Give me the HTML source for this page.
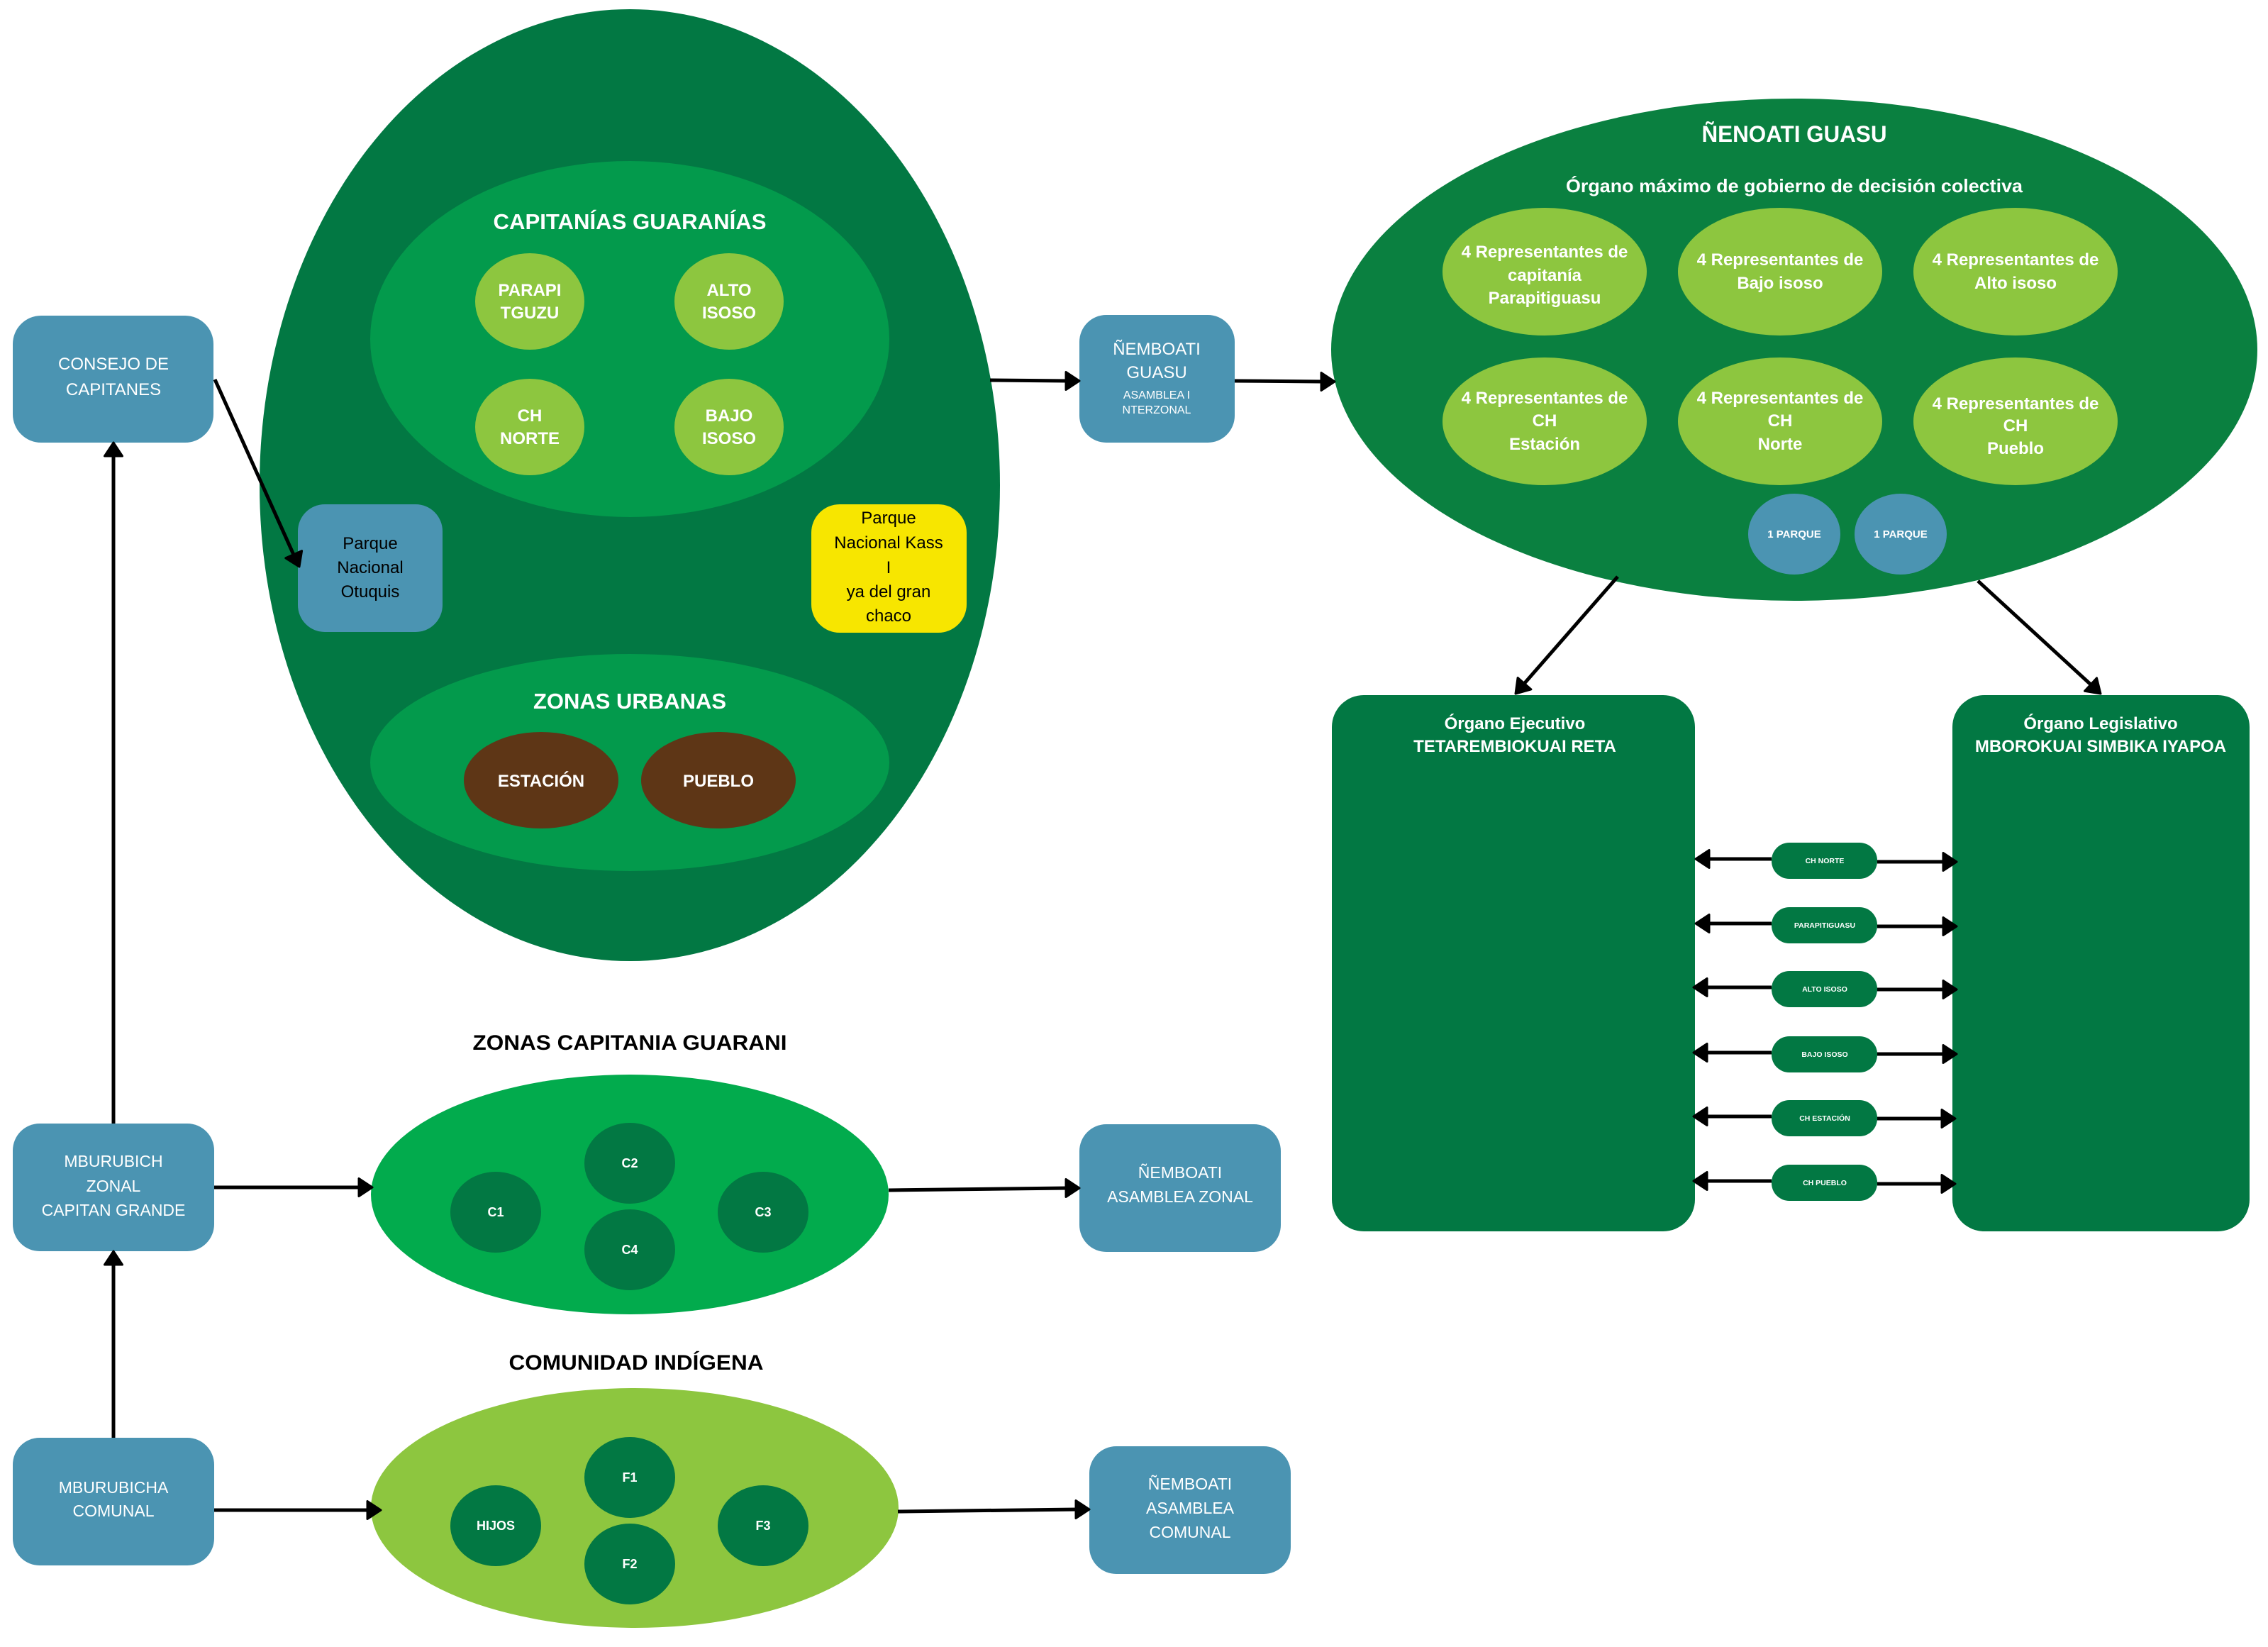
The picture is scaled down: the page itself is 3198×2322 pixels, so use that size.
<!DOCTYPE html>
<html>
<head>
<meta charset="utf-8">
<style>
html,body{margin:0;padding:0;background:#fff;}
svg{display:block;}
text{font-family:"Liberation Sans",sans-serif;}
.w{fill:#fff;}
.k{fill:#000;}
.b{font-weight:bold;}
</style>
</head>
<body>
<svg width="3198" height="2322" viewBox="0 0 3198 2322" xmlns="http://www.w3.org/2000/svg">
<rect width="3198" height="2322" fill="#fff"/>

<!-- ===== Big left ellipse ===== -->
<ellipse cx="888" cy="684" rx="522" ry="671" fill="#027843"/>
<ellipse cx="888" cy="478" rx="366" ry="251" fill="#039a4c"/>
<text x="888" y="323" text-anchor="middle" class="w b" font-size="31" textLength="385" lengthAdjust="spacingAndGlyphs">CAPITANÍAS GUARANÍAS</text>

<ellipse cx="747" cy="425" rx="77" ry="68" fill="#8dc63f"/>
<ellipse cx="1028" cy="425" rx="77" ry="68" fill="#8dc63f"/>
<ellipse cx="747" cy="602" rx="77" ry="68" fill="#8dc63f"/>
<ellipse cx="1028" cy="602" rx="77" ry="68" fill="#8dc63f"/>
<g class="w b" font-size="24" text-anchor="middle">
<text x="747" y="417">PARAPI</text><text x="747" y="449">TGUZU</text>
<text x="1028" y="417">ALTO</text><text x="1028" y="449">ISOSO</text>
<text x="747" y="594">CH</text><text x="747" y="626">NORTE</text>
<text x="1028" y="594">BAJO</text><text x="1028" y="626">ISOSO</text>
</g>

<!-- Parque boxes -->
<rect x="420" y="711" width="204" height="180" rx="38" fill="#4b94b2"/>
<g class="k" font-size="24" text-anchor="middle">
<text x="522" y="774">Parque</text>
<text x="522" y="808">Nacional</text>
<text x="522" y="842">Otuquis</text>
</g>
<rect x="1144" y="711" width="219" height="181" rx="40" fill="#f7e600"/>
<g class="k" font-size="24" text-anchor="middle">
<text x="1253" y="738">Parque</text>
<text x="1253" y="773">Nacional Kass</text>
<text x="1253" y="808">I</text>
<text x="1253" y="842">ya del gran</text>
<text x="1253" y="876">chaco</text>
</g>

<!-- Zonas urbanas -->
<ellipse cx="888" cy="1075" rx="366" ry="153" fill="#039a4c"/>
<text x="888" y="999" text-anchor="middle" class="w b" font-size="31" textLength="272" lengthAdjust="spacingAndGlyphs">ZONAS URBANAS</text>
<ellipse cx="763" cy="1100" rx="109" ry="68" fill="#5e3616"/>
<ellipse cx="1013" cy="1100" rx="109" ry="68" fill="#5e3616"/>
<text x="763" y="1109" text-anchor="middle" class="w b" font-size="24">ESTACIÓN</text>
<text x="1013" y="1109" text-anchor="middle" class="w b" font-size="24">PUEBLO</text>

<!-- ===== Left column boxes ===== -->
<rect x="18" y="445" width="283" height="179" rx="40" fill="#4b94b2"/>
<g class="w" font-size="24" text-anchor="middle">
<text x="160" y="521">CONSEJO DE</text>
<text x="160" y="557">CAPITANES</text>
</g>

<rect x="18" y="1584" width="284" height="180" rx="38" fill="#4b94b2"/>
<g class="w" font-size="23" text-anchor="middle">
<text x="160" y="1645">MBURUBICH</text>
<text x="160" y="1680">ZONAL</text>
<text x="160" y="1714">CAPITAN GRANDE</text>
</g>

<rect x="18" y="2027" width="284" height="180" rx="38" fill="#4b94b2"/>
<g class="w" font-size="23" text-anchor="middle">
<text x="160" y="2105">MBURUBICHA</text>
<text x="160" y="2138">COMUNAL</text>
</g>

<!-- ÑEMBOATI GUASU -->
<rect x="1522" y="444" width="219" height="180" rx="38" fill="#4b94b2"/>
<g class="w" text-anchor="middle">
<text x="1631" y="500" font-size="24">ÑEMBOATI</text>
<text x="1631" y="533" font-size="24">GUASU</text>
<text x="1631" y="562" font-size="16">ASAMBLEA I</text>
<text x="1631" y="583" font-size="16">NTERZONAL</text>
</g>

<!-- ===== ÑENOATI GUASU ===== -->
<ellipse cx="2530" cy="493" rx="653" ry="354" fill="#0a8040"/>
<text x="2530" y="200" text-anchor="middle" class="w b" font-size="32" textLength="261" lengthAdjust="spacingAndGlyphs">ÑENOATI GUASU</text>
<text x="2530" y="271" text-anchor="middle" class="w b" font-size="26" textLength="644" lengthAdjust="spacingAndGlyphs">Órgano máximo de gobierno  de decisión colectiva</text>

<g fill="#8dc63f">
<ellipse cx="2178" cy="383" rx="144" ry="90"/>
<ellipse cx="2510" cy="383" rx="144" ry="90"/>
<ellipse cx="2842" cy="383" rx="144" ry="90"/>
<ellipse cx="2178" cy="594" rx="144" ry="90"/>
<ellipse cx="2510" cy="594" rx="144" ry="90"/>
<ellipse cx="2842" cy="594" rx="144" ry="90"/>
</g>
<g class="w b" font-size="24" text-anchor="middle">
<text x="2178" y="363">4 Representantes de</text>
<text x="2178" y="396">capitanía</text>
<text x="2178" y="428">Parapitiguasu</text>
<text x="2510" y="374">4 Representantes de</text>
<text x="2510" y="407">Bajo isoso</text>
<text x="2842" y="374">4 Representantes de</text>
<text x="2842" y="407">Alto isoso</text>
<text x="2178" y="569">4 Representantes de</text>
<text x="2178" y="601">CH</text>
<text x="2178" y="634">Estación</text>
<text x="2510" y="569">4 Representantes de</text>
<text x="2510" y="601">CH</text>
<text x="2510" y="634">Norte</text>
<text x="2842" y="577">4 Representantes de</text>
<text x="2842" y="608">CH</text>
<text x="2842" y="640">Pueblo</text>
</g>
<ellipse cx="2530" cy="753" rx="65" ry="57" fill="#4b94b2"/>
<ellipse cx="2680" cy="753" rx="65" ry="57" fill="#4b94b2"/>
<text x="2530" y="758" text-anchor="middle" class="w b" font-size="15">1 PARQUE</text>
<text x="2680" y="758" text-anchor="middle" class="w b" font-size="15">1 PARQUE</text>

<!-- Órgano boxes -->
<rect x="1878" y="980" width="512" height="756" rx="45" fill="#027843"/>
<rect x="2753" y="980" width="419" height="756" rx="45" fill="#027843"/>
<g class="w b" font-size="24" text-anchor="middle">
<text x="2136" y="1028">Órgano Ejecutivo</text>
<text x="2136" y="1060">TETAREMBIOKUAI RETA</text>
<text x="2962" y="1028">Órgano Legislativo</text>
<text x="2962" y="1060">MBOROKUAI SIMBIKA IYAPOA</text>
</g>

<!-- Pills -->
<g fill="#027843">
<rect x="2498" y="1188" width="149" height="51" rx="25"/>
<rect x="2498" y="1279" width="149" height="51" rx="25"/>
<rect x="2498" y="1369" width="149" height="51" rx="25"/>
<rect x="2498" y="1461" width="149" height="51" rx="25"/>
<rect x="2498" y="1551" width="149" height="51" rx="25"/>
<rect x="2498" y="1642" width="149" height="51" rx="25"/>
</g>
<g class="w b" font-size="10.5" text-anchor="middle">
<text x="2573" y="1217">CH NORTE</text>
<text x="2573" y="1308">PARAPITIGUASU</text>
<text x="2573" y="1398">ALTO ISOSO</text>
<text x="2573" y="1490">BAJO ISOSO</text>
<text x="2573" y="1580">CH ESTACIÓN</text>
<text x="2573" y="1671">CH PUEBLO</text>
</g>

<!-- ===== Bottom sections ===== -->
<text x="888" y="1480" text-anchor="middle" class="k b" font-size="30" textLength="443" lengthAdjust="spacingAndGlyphs">ZONAS CAPITANIA GUARANI</text>
<ellipse cx="888" cy="1684" rx="365" ry="169" fill="#02ab4d"/>
<g fill="#027843">
<ellipse cx="699" cy="1709" rx="64" ry="57"/>
<ellipse cx="888" cy="1640" rx="64" ry="57"/>
<ellipse cx="1076" cy="1709" rx="64" ry="57"/>
<ellipse cx="888" cy="1762" rx="64" ry="57"/>
</g>
<g class="w b" font-size="18" text-anchor="middle">
<text x="699" y="1715">C1</text>
<text x="888" y="1646">C2</text>
<text x="1076" y="1715">C3</text>
<text x="888" y="1768">C4</text>
</g>

<rect x="1522" y="1585" width="284" height="180" rx="38" fill="#4b94b2"/>
<g class="w" font-size="23" text-anchor="middle">
<text x="1664" y="1661">ÑEMBOATI</text>
<text x="1664" y="1695">ASAMBLEA ZONAL</text>
</g>

<text x="897" y="1931" text-anchor="middle" class="k b" font-size="30" textLength="359" lengthAdjust="spacingAndGlyphs">COMUNIDAD INDÍGENA</text>
<ellipse cx="895" cy="2126" rx="372" ry="169" fill="#8dc63f"/>
<g fill="#027843">
<ellipse cx="699" cy="2151" rx="64" ry="57"/>
<ellipse cx="888" cy="2083" rx="64" ry="57"/>
<ellipse cx="1076" cy="2151" rx="64" ry="57"/>
<ellipse cx="888" cy="2205" rx="64" ry="57"/>
</g>
<g class="w b" font-size="18" text-anchor="middle">
<text x="699" y="2157">HIJOS</text>
<text x="888" y="2089">F1</text>
<text x="1076" y="2157">F3</text>
<text x="888" y="2211">F2</text>
</g>

<rect x="1536" y="2039" width="284" height="180" rx="38" fill="#4b94b2"/>
<g class="w" font-size="23" text-anchor="middle">
<text x="1678" y="2100">ÑEMBOATI</text>
<text x="1678" y="2134">ASAMBLEA</text>
<text x="1678" y="2168">COMUNAL</text>
</g>

<!-- ===== Connectors ===== -->
<g stroke="#000" stroke-width="5" fill="none" stroke-linecap="butt">
<line x1="160" y1="1584" x2="160" y2="641"/>
<line x1="160" y1="2027" x2="160" y2="1781"/>
<line x1="303" y1="535" x2="414" y2="782"/>
<line x1="1396" y1="536" x2="1505" y2="537"/>
<line x1="1741" y1="537" x2="1865" y2="538"/>
<line x1="2281" y1="813" x2="2149" y2="964"/>
<line x1="2789" y1="819" x2="2948" y2="965"/>
<line x1="302" y1="1674" x2="508" y2="1674"/>
<line x1="1253" y1="1678" x2="1505" y2="1675"/>
<line x1="302" y1="2129" x2="520" y2="2129"/>
<line x1="1266" y1="2131" x2="1519" y2="2128"/>
<!-- pill arrows -->
<line x1="2498" y1="1211" x2="2408" y2="1211"/>
<line x1="2647" y1="1215" x2="2742" y2="1215"/>
<line x1="2498" y1="1302" x2="2408" y2="1302"/>
<line x1="2647" y1="1306" x2="2742" y2="1306"/>
<line x1="2498" y1="1392" x2="2405" y2="1392"/>
<line x1="2647" y1="1395" x2="2742" y2="1395"/>
<line x1="2498" y1="1484" x2="2405" y2="1484"/>
<line x1="2647" y1="1486" x2="2742" y2="1486"/>
<line x1="2498" y1="1574" x2="2405" y2="1574"/>
<line x1="2647" y1="1577" x2="2740" y2="1577"/>
<line x1="2498" y1="1665" x2="2405" y2="1665"/>
<line x1="2647" y1="1669" x2="2740" y2="1669"/>
</g>
<g fill="#000" stroke="#000" stroke-width="3" stroke-linejoin="round">
<polygon points="160,624 147.5,643 172.5,643"/>
<polygon points="160,1764 147.5,1783 172.5,1783"/>
<polygon points="422,799 402.8,786.8 425.6,776.6"/>
<polygon points="1522,537 1503,524.5 1503,549.5"/>
<polygon points="1882,538 1863,525.5 1863,550.5"/>
<polygon points="2137,978 2140.1,955.5 2158.9,971.9"/>
<polygon points="2962,978 2939.5,974.3 2956.5,955.9"/>
<polygon points="525,1674 506,1661.5 506,1686.5"/>
<polygon points="1522,1675 1503,1662.5 1503,1687.5"/>
<polygon points="537,2129 518,2116.5 518,2141.5"/>
<polygon points="1536,2128 1517,2115.5 1517,2140.5"/>
<!-- pill arrowheads -->
<polygon points="2391,1211 2410,1198.5 2410,1223.5"/>
<polygon points="2759,1215 2740,1202.5 2740,1227.5"/>
<polygon points="2391,1302 2410,1289.5 2410,1314.5"/>
<polygon points="2759,1306 2740,1293.5 2740,1318.5"/>
<polygon points="2388,1392 2407,1379.5 2407,1404.5"/>
<polygon points="2759,1395 2740,1382.5 2740,1407.5"/>
<polygon points="2388,1484 2407,1471.5 2407,1496.5"/>
<polygon points="2759,1486 2740,1473.5 2740,1498.5"/>
<polygon points="2388,1574 2407,1561.5 2407,1586.5"/>
<polygon points="2757,1577 2738,1564.5 2738,1589.5"/>
<polygon points="2388,1665 2407,1652.5 2407,1677.5"/>
<polygon points="2757,1669 2738,1656.5 2738,1681.5"/>
</g>
</svg>
</body>
</html>
